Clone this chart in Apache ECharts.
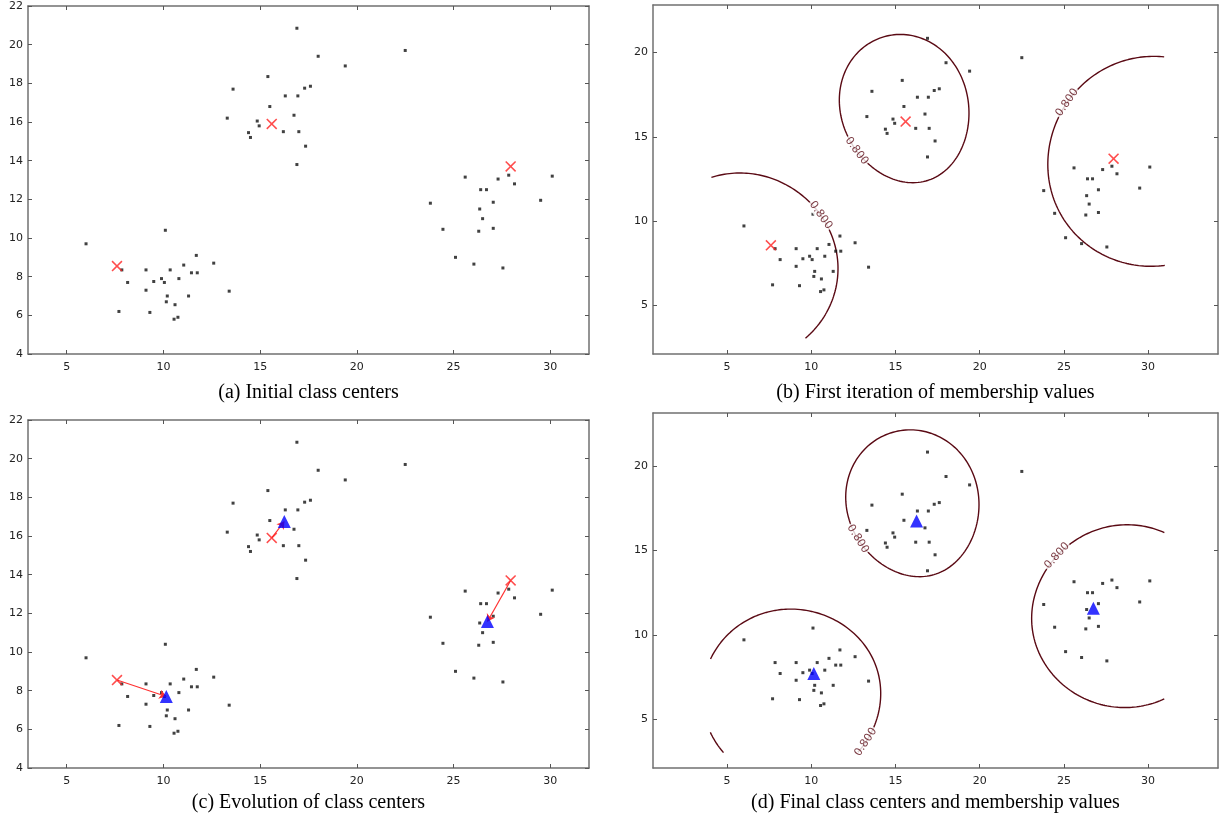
<!DOCTYPE html>
<html>
<head>
<meta charset="utf-8">
<script src="https://cdn.jsdelivr.net/npm/echarts@6/dist/echarts.min.js"></script>
<style>
  html, body { margin: 0; padding: 0; background: #fff; }
  #chart { width: 1223px; height: 822px; }
</style>
</head>
<body>
<div id="chart"></div>
<script>
// sample points
const lowerCluster = [
  [6.0, 9.7], [10.1, 10.4], [11.7, 9.1], [12.6, 8.7], [11.05, 8.6], [7.85, 8.35],
  [9.1, 8.35], [10.35, 8.35], [11.45, 8.2], [11.75, 8.2], [9.9, 7.9], [10.8, 7.9],
  [9.5, 7.75], [10.05, 7.7], [8.15, 7.7], [9.1, 7.3], [13.4, 7.25], [10.2, 7.0],
  [11.3, 7.0], [10.15, 6.7], [10.6, 6.55], [7.7, 6.2], [9.3, 6.15], [10.75, 5.9], [10.55, 5.8]
]
const upperCluster = [
  [16.9, 20.85], [22.5, 19.7], [18.0, 19.4], [19.4, 18.9], [15.4, 18.35], [13.6, 17.7],
  [17.6, 17.85], [17.3, 17.75], [16.3, 17.35], [16.95, 17.35], [15.5, 16.8], [16.75, 16.35],
  [13.3, 16.2], [14.85, 16.05], [14.95, 15.8], [16.2, 15.5], [17.0, 15.5], [14.4, 15.45],
  [14.5, 15.2], [17.35, 14.75], [16.9, 13.8]
]
const rightCluster = [
  [27.85, 13.25], [25.6, 13.15], [30.1, 13.2], [27.3, 13.05], [28.15, 12.8], [26.4, 12.5],
  [26.7, 12.5], [23.8, 11.8], [29.5, 11.95], [27.05, 11.85], [26.35, 11.5], [26.5, 11.0],
  [24.45, 10.45], [26.3, 10.35], [27.05, 10.5], [25.1, 9.0], [26.05, 8.65], [27.55, 8.45]
]

const initialCenters = [[7.6, 8.55], [15.6, 15.9], [27.95, 13.7]]
const finalCenters = [[10.15, 7.7], [16.25, 16.75], [26.75, 11.58]]

const membershipLevel = 0.8
const fuzziness = 2

const xTicks = [5, 10, 15, 20, 25, 30]
const yTicksScatter = [4, 6, 8, 10, 12, 14, 16, 18, 20, 22]
const yTicksContour = [5, 10, 15, 20]

const captions = [
  '(a) Initial class centers',
  '(b) First iteration of membership values',
  '(c) Evolution of class centers',
  '(d) Final class centers and membership values'
]

// ---- layout ----
const PANELS = [
  { left: 28, top: 6, width: 561, height: 348, x: [3, 32], y: [4, 22], yTicks: yTicksScatter, captionY: 393 },
  { left: 653, top: 5, width: 565, height: 349, x: [0.6, 34.15], y: [2.09, 22.83], yTicks: yTicksContour, captionY: 393 },
  { left: 28, top: 420, width: 561, height: 348, x: [3, 32], y: [4, 22], yTicks: yTicksScatter, captionY: 803 },
  { left: 653, top: 413, width: 565, height: 355, x: [0.6, 34.15], y: [2.09, 23.17], yTicks: yTicksContour, captionY: 803 }
]
const CONTOUR_BOX = { x0: 4, x1: 31, y0: 3, y1: 23 }
const LABEL_SPOTS = {
  1: [[10.5, 10.3], [12.6, 14.1], [25.1, 17.1]],
  3: [[12.6, 4.05], [12.3, 15.4], [24.7, 14.6]]
}
const CONTOUR_COLOR = '#5a0a14'
const XMARK = 'path://M0,1L1,0L5,4L9,0L10,1L6,5L10,9L9,10L5,6L1,10L0,9L4,5Z'

const allPoints = lowerCluster.concat(upperCluster, rightCluster)

// fuzzy c-means membership of point p in cluster i
const membership = (px, py, centers, i) => {
  const d = centers.map(c => (px - c[0]) ** 2 + (py - c[1]) ** 2)
  if (d[i] === 0) return 1
  let s = 0
  for (const dj of d) s += Math.pow(d[i] / dj, 1 / (fuzziness - 1))
  return 1 / s
}

// walk rays out of the centre to find the level curve, cut at the grid box
const levelCurve = (centers, i, level) => {
  const [cx, cy] = centers[i]
  const n = 900
  const segs = []
  let cur = null
  let firstInside = false
  for (let k = 0; k <= n; k++) {
    const t = 2 * Math.PI * k / n
    const dx = Math.cos(t), dy = Math.sin(t)
    let r = 0.05
    while (r < 60 && membership(cx + r * dx, cy + r * dy, centers, i) >= level) r += 0.05
    let lo = r - 0.05, hi = r
    for (let it = 0; it < 25; it++) {
      const mid = (lo + hi) / 2
      if (membership(cx + mid * dx, cy + mid * dy, centers, i) >= level) lo = mid
      else hi = mid
    }
    const x = cx + lo * dx, y = cy + lo * dy
    const inside = x >= CONTOUR_BOX.x0 && x <= CONTOUR_BOX.x1 && y >= CONTOUR_BOX.y0 && y <= CONTOUR_BOX.y1
    if (k === 0) firstInside = inside
    if (inside) {
      if (!cur) { cur = []; segs.push(cur) }
      cur.push([x, y])
    } else {
      cur = null
    }
  }
  if (segs.length > 1 && firstInside && cur) {
    const first = segs.shift()
    segs[segs.length - 1] = segs[segs.length - 1].concat(first.slice(1))
  }
  return segs
}

const contourLabel = (segs, spot) => {
  let best = null
  segs.forEach(seg => seg.forEach((p, j) => {
    const d = (p[0] - spot[0]) ** 2 + (p[1] - spot[1]) ** 2
    if (!best || d < best.d) best = { d, seg, j }
  }))
  const { seg, j } = best
  const a = seg[Math.max(j - 3, 0)], b = seg[Math.min(j + 3, seg.length - 1)]
  let ang = Math.atan2(b[1] - a[1], b[0] - a[0]) * 180 / Math.PI
  if (ang > 90) ang -= 180
  if (ang < -90) ang += 180
  return { value: seg[j], label: { rotate: ang } }
}

const axisLine = { show: true, onZero: false, lineStyle: { color: '#707070', width: 1.5 } }
const tickFont = { color: '#222', fontSize: 11, fontFamily: 'DejaVu Sans' }

const xAxis = []
const yAxis = []
const grid = []
const series = []
const graphic = []

PANELS.forEach((p, k) => {
  grid.push({ left: p.left, top: p.top, width: p.width, height: p.height, containLabel: false, outerBoundsMode: 'none' })
  const xb = {
    gridIndex: k, type: 'value', min: p.x[0], max: p.x[1], splitLine: { show: false }, axisLine,
    axisTick: { show: true, inside: true, length: 4, customValues: xTicks, lineStyle: { color: '#555' } }
  }
  xAxis.push({ ...xb, position: 'bottom', axisLabel: { ...tickFont, margin: 8, customValues: xTicks } })
  xAxis.push({ ...xb, position: 'top', axisLabel: { show: false } })
  const yb = {
    gridIndex: k, type: 'value', min: p.y[0], max: p.y[1], splitLine: { show: false }, axisLine,
    axisTick: { show: true, inside: true, length: 4, customValues: p.yTicks, lineStyle: { color: '#555' } }
  }
  yAxis.push({ ...yb, position: 'left', axisLabel: { ...tickFont, margin: 5, customValues: p.yTicks } })
  yAxis.push({ ...yb, position: 'right', axisLabel: { show: false } })

  const ax = { xAxisIndex: 2 * k, yAxisIndex: 2 * k }

  // membership contours for (b) and (d)
  if (k === 1 || k === 3) {
    const centers = k === 1 ? initialCenters : finalCenters
    const labels = []
    centers.forEach((c, i) => {
      const segs = levelCurve(centers, i, membershipLevel)
      segs.forEach(seg => series.push({
        type: 'line', ...ax, data: seg, showSymbol: false, symbol: 'none', silent: true, z: 1,
        lineStyle: { color: CONTOUR_COLOR, width: 1.4 }
      }))
      labels.push(contourLabel(segs, LABEL_SPOTS[k][i]))
    })
    series.push({
      type: 'scatter', ...ax, data: labels, symbolSize: 0, silent: true, z: 3,
      label: {
        show: true, position: 'inside', formatter: membershipLevel.toFixed(3),
        color: CONTOUR_COLOR, fontSize: 11, fontFamily: 'DejaVu Sans',
        backgroundColor: '#fff', padding: [0, 1]
      }
    })
  }

  series.push({
    type: 'scatter', ...ax, data: allPoints, symbol: 'rect', symbolSize: 3, z: 2, silent: true,
    itemStyle: { color: '#111' }
  })

  if (k <= 2) {
    series.push({
      type: 'scatter', ...ax, data: initialCenters, symbol: XMARK, symbolSize: 11, z: 4, silent: true,
      itemStyle: { color: '#ff2020' }
    })
  }
  if (k === 2) {
    series.push({
      type: 'lines', coordinateSystem: 'cartesian2d', ...ax, z: 4, silent: true,
      data: initialCenters.map((s, i) => ({ coords: [s, finalCenters[i]] })),
      symbol: ['none', 'arrow'], symbolSize: 7,
      lineStyle: { color: '#ff3030', width: 1.2, opacity: 1 }
    })
  }
  if (k >= 2) {
    series.push({
      type: 'scatter', ...ax, data: finalCenters, symbol: 'triangle', symbolSize: 13, z: 5, silent: true,
      itemStyle: { color: '#0000ff' }
    })
  }

  graphic.push({
    type: 'text', x: p.left + p.width / 2, y: p.captionY, silent: true,
    style: {
      text: captions[k], fill: '#000', font: '20px "Liberation Serif", "DejaVu Serif", serif',
      textAlign: 'center', textVerticalAlign: 'middle'
    }
  })
})

const chart = echarts.init(document.getElementById('chart'))
chart.setOption({
  animation: false,
  backgroundColor: '#fff',
  grid, xAxis, yAxis, series, graphic
})
</script>
</body>
</html>
